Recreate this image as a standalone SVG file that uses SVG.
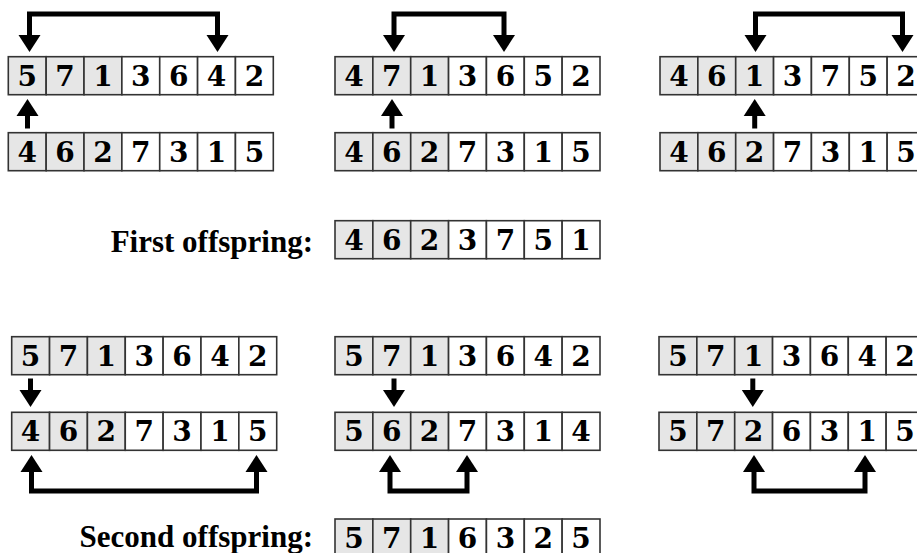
<svg xmlns="http://www.w3.org/2000/svg" width="917" height="553" viewBox="0 0 917 553">
<defs>
<style>
.c{fill:#fff;stroke:#333;stroke-width:1.6}
.g{fill:#e6e6e6;stroke:#333;stroke-width:1.6}
.d{font-family:"DejaVu Serif",serif;font-weight:bold;font-size:28px;text-anchor:middle;fill:#000}
.lbl{font-family:"Liberation Serif","Times New Roman",serif;font-weight:bold;font-size:31px;text-anchor:end;fill:#000}
.a{fill:none;stroke:#000;stroke-width:5;stroke-linejoin:miter;marker-end:url(#h)}
.b{fill:none;stroke:#000;stroke-width:5;stroke-linejoin:miter;marker-end:url(#h);marker-start:url(#h)}
</style>
<marker id="h" markerUnits="userSpaceOnUse" markerWidth="18" markerHeight="22" refX="0" refY="11" orient="auto-start-reverse" overflow="visible">
<path d="M0,0 L17,11 L0,22 Z" fill="#000"/>
</marker>
<g id="cells">
<rect class="g" x="0" y="0" width="37.86" height="38"/>
<rect class="g" x="37.86" y="0" width="37.86" height="38"/>
<rect class="g" x="75.71" y="0" width="37.86" height="38"/>
<rect class="c" x="113.57" y="0" width="37.86" height="38"/>
<rect class="c" x="151.43" y="0" width="37.86" height="38"/>
<rect class="c" x="189.29" y="0" width="37.86" height="38"/>
<rect class="c" x="227.14" y="0" width="37.86" height="38"/>
</g>
</defs>
<rect width="917" height="553" fill="#fff"/>

<g id="p1a" transform="translate(8.3,56.7)"><use href="#cells"/>
<text class="d" y="29"><tspan x="18.9">5</tspan><tspan x="56.8">7</tspan><tspan x="94.6">1</tspan><tspan x="132.5">3</tspan><tspan x="170.4">6</tspan><tspan x="208.2">4</tspan><tspan x="246.1">2</tspan></text></g>
<g id="p2a" transform="translate(8.3,132.7)"><use href="#cells"/>
<text class="d" y="29"><tspan x="18.9">4</tspan><tspan x="56.8">6</tspan><tspan x="94.6">2</tspan><tspan x="132.5">7</tspan><tspan x="170.4">3</tspan><tspan x="208.2">1</tspan><tspan x="246.1">5</tspan></text></g>
<g id="p1b" transform="translate(335,56.7)"><use href="#cells"/>
<text class="d" y="29"><tspan x="18.9">4</tspan><tspan x="56.8">7</tspan><tspan x="94.6">1</tspan><tspan x="132.5">3</tspan><tspan x="170.4">6</tspan><tspan x="208.2">5</tspan><tspan x="246.1">2</tspan></text></g>
<g id="p2b" transform="translate(335,132.7)"><use href="#cells"/>
<text class="d" y="29"><tspan x="18.9">4</tspan><tspan x="56.8">6</tspan><tspan x="94.6">2</tspan><tspan x="132.5">7</tspan><tspan x="170.4">3</tspan><tspan x="208.2">1</tspan><tspan x="246.1">5</tspan></text></g>
<g id="p1c" transform="translate(660,56.7)"><use href="#cells"/>
<text class="d" y="29"><tspan x="18.9">4</tspan><tspan x="56.8">6</tspan><tspan x="94.6">1</tspan><tspan x="132.5">3</tspan><tspan x="170.4">7</tspan><tspan x="208.2">5</tspan><tspan x="246.1">2</tspan></text></g>
<g id="p2c" transform="translate(660,132.7)"><use href="#cells"/>
<text class="d" y="29"><tspan x="18.9">4</tspan><tspan x="56.8">6</tspan><tspan x="94.6">2</tspan><tspan x="132.5">7</tspan><tspan x="170.4">3</tspan><tspan x="208.2">1</tspan><tspan x="246.1">5</tspan></text></g>

<g id="first"><text class="lbl" x="313" y="252">First offspring:</text>
<g transform="translate(335,220.7)"><use href="#cells"/>
<text class="d" y="29"><tspan x="18.9">4</tspan><tspan x="56.8">6</tspan><tspan x="94.6">2</tspan><tspan x="132.5">3</tspan><tspan x="170.4">7</tspan><tspan x="208.2">5</tspan><tspan x="246.1">1</tspan></text></g></g>

<g id="q1a" transform="translate(11.7,336.7)"><use href="#cells"/>
<text class="d" y="29"><tspan x="18.9">5</tspan><tspan x="56.8">7</tspan><tspan x="94.6">1</tspan><tspan x="132.5">3</tspan><tspan x="170.4">6</tspan><tspan x="208.2">4</tspan><tspan x="246.1">2</tspan></text></g>
<g id="q2a" transform="translate(11.7,412.3)"><use href="#cells"/>
<text class="d" y="29"><tspan x="18.9">4</tspan><tspan x="56.8">6</tspan><tspan x="94.6">2</tspan><tspan x="132.5">7</tspan><tspan x="170.4">3</tspan><tspan x="208.2">1</tspan><tspan x="246.1">5</tspan></text></g>
<g id="q1b" transform="translate(335,336.7)"><use href="#cells"/>
<text class="d" y="29"><tspan x="18.9">5</tspan><tspan x="56.8">7</tspan><tspan x="94.6">1</tspan><tspan x="132.5">3</tspan><tspan x="170.4">6</tspan><tspan x="208.2">4</tspan><tspan x="246.1">2</tspan></text></g>
<g id="q2b" transform="translate(335,412.3)"><use href="#cells"/>
<text class="d" y="29"><tspan x="18.9">5</tspan><tspan x="56.8">6</tspan><tspan x="94.6">2</tspan><tspan x="132.5">7</tspan><tspan x="170.4">3</tspan><tspan x="208.2">1</tspan><tspan x="246.1">4</tspan></text></g>
<g id="q1c" transform="translate(659,336.7)"><use href="#cells"/>
<text class="d" y="29"><tspan x="18.9">5</tspan><tspan x="56.8">7</tspan><tspan x="94.6">1</tspan><tspan x="132.5">3</tspan><tspan x="170.4">6</tspan><tspan x="208.2">4</tspan><tspan x="246.1">2</tspan></text></g>
<g id="q2c" transform="translate(659,412.3)"><use href="#cells"/>
<text class="d" y="29"><tspan x="18.9">5</tspan><tspan x="56.8">7</tspan><tspan x="94.6">2</tspan><tspan x="132.5">6</tspan><tspan x="170.4">3</tspan><tspan x="208.2">1</tspan><tspan x="246.1">5</tspan></text></g>

<g id="second"><text class="lbl" x="313" y="546.5">Second offspring:</text>
<g transform="translate(335,519)"><use href="#cells"/>
<text class="d" y="29"><tspan x="18.9">5</tspan><tspan x="56.8">7</tspan><tspan x="94.6">1</tspan><tspan x="132.5">6</tspan><tspan x="170.4">3</tspan><tspan x="208.2">2</tspan><tspan x="246.1">5</tspan></text></g></g>

<g id="connectors">
<path class="b" d="M29.5,35 V14 H217.5 V35"/>
<path class="a" d="M27.5,128.5 V116"/>
<path class="b" d="M394,35 V14 H504 V35"/>
<path class="a" d="M392,128.5 V116"/>
<path class="b" d="M755.5,35 V14 H902.5 V35"/>
<path class="a" d="M754.7,128.5 V116"/>
<path class="a" d="M30.5,378.5 V390"/>
<path class="b" d="M31.5,472 V491 H256.5 V472"/>
<path class="a" d="M394,378.5 V390"/>
<path class="b" d="M390,472 V491 H467 V472"/>
<path class="a" d="M752.8,378.5 V390"/>
<path class="b" d="M754,472 V491 H865 V472"/>
</g>
</svg>
